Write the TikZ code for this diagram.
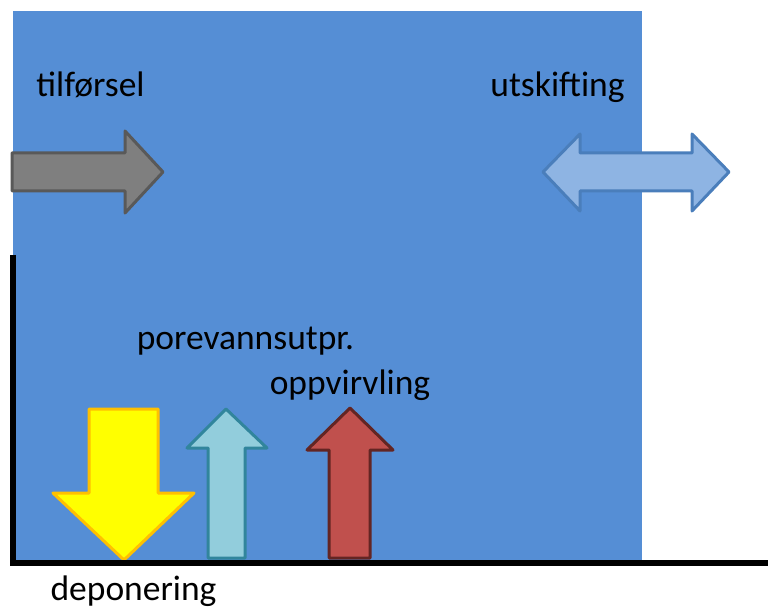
\documentclass[tikz,border=0pt]{standalone}
\usepackage{fontspec}
\setmainfont{Carlito}
\usepackage{tikz}

\definecolor{water}{HTML}{558ED5}
\definecolor{grayfill}{HTML}{7F7F7F}
\definecolor{grayline}{HTML}{595959}
\definecolor{swapfill}{HTML}{8EB4E3}
\definecolor{swapline}{HTML}{4A7EBB}
\definecolor{yelfill}{HTML}{FFFF00}
\definecolor{yelline}{HTML}{FFC000}
\definecolor{porefill}{HTML}{92CDDC}
\definecolor{poreline}{HTML}{31859C}
\definecolor{stirfill}{HTML}{C0504D}
\definecolor{stirline}{HTML}{632523}

\tikzset{
	lbl/.style = {font=\fontsize{35.5}{42}\selectfont, inner sep=0pt, anchor=base},
	flux/.style = {line width=3pt, line join=round}
}

\begin{document}
\begin{tikzpicture}[x=1pt, y=-1pt]
	\useasboundingbox (0,0) rectangle (768,609);
	\fill [water] (13,11) rectangle (642,562);
	% arrows
	\draw [flux, draw=grayline, fill=grayfill] (12,153) -- (125,153) -- (125,131) -- (163,172) -- (125,213) -- (125,191) -- (12,191) -- cycle;
	\draw [flux, draw=swapline, fill=swapfill] (543,172) -- (580,134) -- (580,153) -- (692,153) -- (692,134) -- (729,172) -- (692,211) -- (692,191) -- (580,191) -- (580,211) -- cycle;
	\draw [flux, draw=yelline, fill=yelfill] (89,409) -- (158,409) -- (158,493) -- (194,493) -- (124,560) -- (53,493) -- (89,493) -- cycle;
	\draw [flux, draw=poreline, fill=porefill] (226,409) -- (267,448) -- (245,448) -- (245,558) -- (208,558) -- (208,448) -- (187,448) -- cycle;
	\draw [flux, draw=stirline, fill=stirfill] (350,408) -- (393,450) -- (370,450) -- (370,558) -- (329,558) -- (329,450) -- (307,450) -- cycle;
	% bottom and wall
	\draw [line width=6pt] (13,255) -- (13,563);
	\draw [line width=6pt] (10,563) -- (768,563);
	% labels
	\node [lbl] (tilf) at (90.5,97) {tilførsel};
	\node [lbl] (utsk) at (557.5,97) {utskifting};
	\node [lbl] (pore) at (245.5,350) {porevannsutpr.};
	\node [lbl] (oppv) at (350,394) {oppvirvling};
	\node [lbl] (depo) at (133.5,600) {deponering};
\end{tikzpicture}
\end{document}
